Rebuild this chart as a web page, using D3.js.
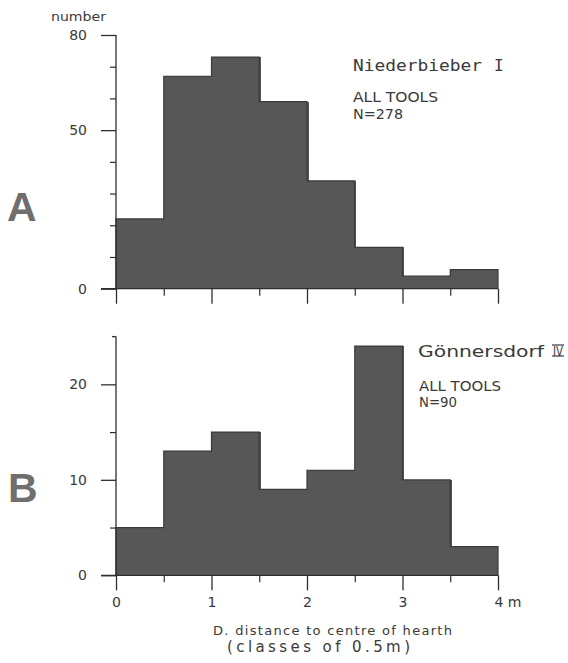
<!DOCTYPE html>
<html>
<head>
<meta charset="utf-8">
<script src="https://cdn.jsdelivr.net/npm/d3@7/dist/d3.min.js"></script>
<style>
  html, body { margin: 0; padding: 0; background: #fff; }
  svg { display: block; }
  text { font-family: "DejaVu Sans", sans-serif; fill: #3a3a3a; }
  .tick text { font-family: "DejaVu Sans", sans-serif; fill: #3a3a3a; }
</style>
</head>
<body>
<svg id="chart" width="568" height="663"></svg>
<script>
// Distance classes (m): lower edges of the 0.5 m bins
const binStarts = [0, 0.5, 1, 1.5, 2, 2.5, 3, 3.5];
const binWidth = 0.5;

// A: Niederbieber I, all tools (N = 278)
const countsA = [22, 67, 73, 59, 34, 13, 4, 6];
// B: Gönnersdorf IV, all tools (N = 90)
const countsB = [5, 13, 15, 9, 11, 24, 10, 3];

// Axis ticks
const yMajorA = [0, 50, 80];
const yMinorA = [10, 20, 30, 40, 60, 70];
const yMajorB = [0, 10, 20];
const yMinorB = [5, 15];
const yTopB = 25;
const xMajor = [0, 1, 2, 3, 4];
const xMinor = [0.5, 1.5, 2.5, 3.5];
const xLabels = ["0", "1", "2", "3", "4 m"];

const svg = d3.select("#chart");

const x = d3.scaleLinear().domain([0, 4]).range([116, 498]);
const yA = d3.scaleLinear().domain([0, 80]).range([288.7, 35]);
const yB = d3.scaleLinear().domain([0, 25]).range([575.3, 336.6]);

const barFill = "#575757";
const axisColor = "#2e2e2e";

function drawPanel(g, y, counts, yMajor, yMinor, topTick, showXLabels) {
  // histogram bars (filled, overlapping slightly so neighbours merge)
  g.selectAll("rect.bar")
    .data(counts)
    .join("rect")
    .attr("class", "bar")
    .attr("x", (d, i) => x(binStarts[i]))
    .attr("width", (d, i) => x(binWidth) - x(0) + (i < counts.length - 1 ? 1.5 : 0))
    .attr("y", d => y(d))
    .attr("height", d => y(0) - y(d))
    .attr("fill", barFill)
    .attr("shape-rendering", "crispEdges");

  // outline of the histogram silhouette
  const pts = [[0, 0]];
  counts.forEach((c, i) => { pts.push([binStarts[i], c]); });
  pts.push([binStarts[binStarts.length - 1] + binWidth, counts[counts.length - 1]]);
  pts.push([binStarts[binStarts.length - 1] + binWidth, 0]);
  const outline = d3.line()
    .x(d => x(d[0])).y(d => y(d[1]))
    .curve(d3.curveStepAfter);
  g.append("path")
    .attr("d", outline(pts))
    .attr("fill", "none")
    .attr("stroke", "#3a3a3a")
    .attr("stroke-width", 1.2);

  // y axis: major ticks with labels
  const yAxis = g.append("g")
    .attr("transform", `translate(${x(0)},0)`)
    .call(d3.axisLeft(y).tickValues(yMajor).tickSize(15).tickPadding(14).tickSizeOuter(0).tickFormat(d3.format("d")));
  yAxis.select(".domain")
    .attr("d", `M0,${y(0)}V${y(topTick)}`);
  yAxis.selectAll("line, path").attr("stroke", axisColor).attr("stroke-width", 1.3);
  yAxis.selectAll("text").style("font-size", "14px");

  // y axis: minor ticks
  const yMinAxis = g.append("g")
    .attr("transform", `translate(${x(0)},0)`)
    .call(d3.axisLeft(y).tickValues(yMinor).tickSize(6).tickFormat(""));
  yMinAxis.select(".domain").remove();
  yMinAxis.selectAll("line").attr("stroke", axisColor).attr("stroke-width", 1.2);

  // x axis: whole metres
  const xAxis = g.append("g")
    .attr("transform", `translate(0,${y(0)})`)
    .call(d3.axisBottom(x).tickValues(xMajor).tickSize(15).tickPadding(7)
      .tickFormat((d, i) => showXLabels ? xLabels[i] : ""));
  xAxis.select(".domain").remove();
  xAxis.selectAll("line").attr("stroke", axisColor).attr("stroke-width", 1.3);
  xAxis.selectAll("text").style("font-size", "14px")
    .attr("text-anchor", (d, i) => i === xMajor.length - 1 ? "start" : "middle")
    .attr("dx", (d, i) => i === xMajor.length - 1 ? "-4" : "0");

  // x axis: half-metre class limits
  const xMinAxis = g.append("g")
    .attr("transform", `translate(0,${y(0)})`)
    .call(d3.axisBottom(x).tickValues(xMinor).tickSize(7).tickFormat(""));
  xMinAxis.select(".domain").remove();
  xMinAxis.selectAll("line").attr("stroke", axisColor).attr("stroke-width", 1.2);

  // baseline
  g.append("line")
    .attr("x1", x(0) - 15).attr("x2", x(4))
    .attr("y1", y(0)).attr("y2", y(0))
    .attr("stroke", axisColor).attr("stroke-width", 1.3);
}

const gA = svg.append("g");
drawPanel(gA, yA, countsA, yMajorA, yMinorA, 80, false);

const gB = svg.append("g");
drawPanel(gB, yB, countsB, yMajorB, yMinorB, yTopB, true);
// short tick marking the top of the B axis
gB.append("line")
  .attr("x1", x(0) - 4).attr("x2", x(0))
  .attr("y1", yB(yTopB)).attr("y2", yB(yTopB))
  .attr("stroke", axisColor).attr("stroke-width", 1.3);

// y axis title
svg.append("text")
  .attr("x", 51).attr("y", 21)
  .attr("textLength", 55).attr("lengthAdjust", "spacingAndGlyphs")
  .style("font-size", "12px")
  .text("number");

// panel letters
svg.append("text")
  .attr("x", 7).attr("y", 221)
  .style("font-family", "'Liberation Sans', Arial, sans-serif")
  .style("font-size", "41px").style("font-weight", "bold")
  .style("fill", "#6f6f6f")
  .text("A");
svg.append("text")
  .attr("x", 8).attr("y", 502)
  .style("font-family", "'Liberation Sans', Arial, sans-serif")
  .style("font-size", "41px").style("font-weight", "bold")
  .style("fill", "#6f6f6f")
  .text("B");

// site annotations
const mono = "'DejaVu Sans Mono', monospace";
svg.append("text")
  .attr("x", 353).attr("y", 71)
  .attr("textLength", 129).attr("lengthAdjust", "spacingAndGlyphs")
  .style("font-family", mono).style("font-size", "16px")
  .text("Niederbieber");
svg.append("text")
  .attr("x", 494).attr("y", 71)
  .style("font-family", mono).style("font-size", "16px")
  .text("I");
svg.append("text")
  .attr("x", 353).attr("y", 102)
  .attr("textLength", 85).attr("lengthAdjust", "spacingAndGlyphs")
  .style("font-size", "14px")
  .text("ALL TOOLS");
svg.append("text")
  .attr("x", 353).attr("y", 119)
  .attr("textLength", 50).attr("lengthAdjust", "spacingAndGlyphs")
  .style("font-size", "14px")
  .text("N=278");

svg.append("text")
  .attr("x", 418).attr("y", 357)
  .attr("textLength", 126).attr("lengthAdjust", "spacingAndGlyphs")
  .style("font-size", "15px")
  .text("Gönnersdorf");
svg.append("text")
  .attr("x", 553).attr("y", 356)
  .attr("textLength", 10).attr("lengthAdjust", "spacingAndGlyphs")
  .style("font-size", "14px")
  .text("IV");
[345, 356].forEach(yy => svg.append("line")
  .attr("x1", 552).attr("x2", 564).attr("y1", yy).attr("y2", yy)
  .attr("stroke", "#3a3a3a").attr("stroke-width", 1.2));
svg.append("text")
  .attr("x", 419).attr("y", 391)
  .attr("textLength", 82).attr("lengthAdjust", "spacingAndGlyphs")
  .style("font-size", "14px")
  .text("ALL TOOLS");
svg.append("text")
  .attr("x", 419).attr("y", 407)
  .attr("textLength", 38).attr("lengthAdjust", "spacingAndGlyphs")
  .style("font-size", "14px")
  .text("N=90");

// x axis title
svg.append("text")
  .attr("x", 213).attr("y", 635)
  .attr("textLength", 239).attr("lengthAdjust", "spacing")
  .style("font-size", "13px")
  .text("D. distance to centre of hearth");
svg.append("text")
  .attr("x", 227).attr("y", 652)
  .attr("textLength", 183).attr("lengthAdjust", "spacing")
  .style("font-size", "15px")
  .text("(classes of 0.5m)");
</script>
</body>
</html>
